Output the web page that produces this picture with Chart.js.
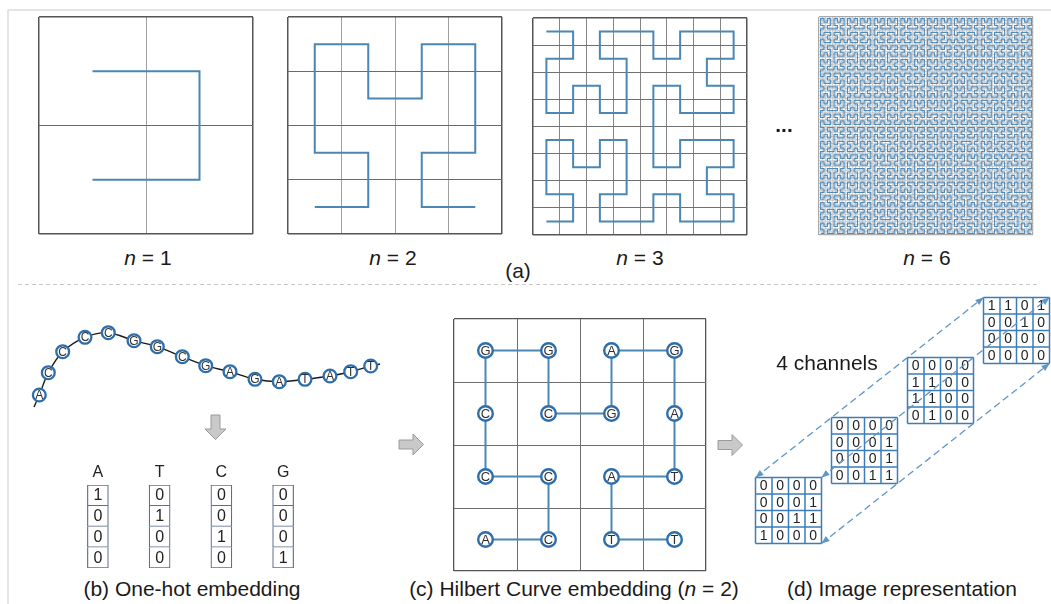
<!DOCTYPE html>
<html><head><meta charset="utf-8">
<script src="https://cdn.jsdelivr.net/npm/chart.js@4.4.0/dist/chart.umd.min.js"></script>
<style>
html,body{margin:0;padding:0;background:#fff;}
body{width:1051px;height:604px;overflow:hidden;position:relative;font-family:"Liberation Sans",Arial,sans-serif;}
canvas.c{position:absolute;}
.t{position:absolute;font-size:21px;line-height:24px;color:#1a1a1a;text-align:center;white-space:nowrap;width:400px;}
svg.o{position:absolute;left:0;top:0;}
</style></head><body>

<svg class="o" width="1051" height="604">
  <line x1="8" y1="10" x2="1051" y2="10" stroke="#e4e4e4" stroke-width="2"/>
  <line x1="8" y1="10" x2="8" y2="604" stroke="#e4e4e4" stroke-width="2"/>
  <line x1="18" y1="284.5" x2="1040" y2="284.5" stroke="#c8c8c8" stroke-width="1" stroke-dasharray="4,3"/>
  <polygon points="211,415 220,415 220,429 226,429 215.5,439.5 205,429 211,429" fill="#c9c9c9" stroke="#9a9a9a" stroke-width="1"/>
  <polygon points="399,440 413,440 413,434 423.5,444.5 413,455 413,449 399,449" fill="#c9c9c9" stroke="#9a9a9a" stroke-width="1"/>
  <polygon points="718,440.5 732,440.5 732,434.5 742.5,445 732,455.5 732,449.5 718,449.5" fill="#c9c9c9" stroke="#9a9a9a" stroke-width="1"/>
</svg>

<canvas class="c" id="h1" width="222" height="225" style="left:35px;top:13px"></canvas>
<canvas class="c" id="h2" width="222" height="225" style="left:284px;top:13px"></canvas>
<canvas class="c" id="h3" width="222" height="225" style="left:529px;top:14px"></canvas>
<canvas class="c" id="h6" width="222" height="226" style="left:815px;top:13px"></canvas>
<canvas class="c" id="dna" width="380" height="105" style="left:20px;top:315px"></canvas>
<canvas class="c" id="onehot" width="255" height="114" style="left:63px;top:458px"></canvas>
<canvas class="c" id="hc" width="260" height="260" style="left:450px;top:315px"></canvas>
<canvas class="c" id="img" width="311" height="275" style="left:740px;top:285px"></canvas>

<div class="t" style="left:-52px;top:246px"><i>n</i> = 1</div>
<div class="t" style="left:193px;top:246px"><i>n</i> = 2</div>
<div class="t" style="left:440px;top:246px"><i>n</i> = 3</div>
<div class="t" style="left:727px;top:246px"><i>n</i> = 6</div>
<div class="t" style="left:584px;top:113px;font-weight:bold">...</div>
<div class="t" style="left:318px;top:259px">(a)</div>
<div class="t" style="left:-8px;top:577px">(b) One-hot embedding</div>
<div class="t" style="left:374px;top:577px">(c) Hilbert Curve embedding (<i>n</i> = 2)</div>
<div class="t" style="left:702px;top:577px">(d) Image representation</div>
<div class="t" style="left:627px;top:351px">4 channels</div>

<script>
// ---------------- data ----------------
const hilbert1 = [[0,0],[1,0],[1,1],[0,1]];
const hilbert2 = [[0,0],[1,0],[1,1],[0,1],[0,2],[0,3],[1,3],[1,2],[2,2],[2,3],[3,3],[3,2],[3,1],[2,1],[2,0],[3,0]];
const hilbert3 = [
  [0,0],[1,0],[1,1],[0,1],[0,2],[0,3],[1,3],[1,2],[2,2],[2,3],[3,3],[3,2],[3,1],[2,1],[2,0],[3,0],
  [4,0],[4,1],[5,1],[5,0],[6,0],[7,0],[7,1],[6,1],[6,2],[7,2],[7,3],[6,3],[5,3],[5,2],[4,2],[4,3],
  [4,4],[4,5],[5,5],[5,4],[6,4],[7,4],[7,5],[6,5],[6,6],[7,6],[7,7],[6,7],[5,7],[5,6],[4,6],[4,7],
  [3,7],[2,7],[2,6],[3,6],[3,5],[3,4],[2,4],[2,5],[1,5],[1,4],[0,4],[0,5],[0,6],[1,6],[1,7],[0,7]
];
const hilbert6Order = 6;

const dnaSeq = ['A','C','C','C','C','G','G','C','G','A','G','A','T','A','T','T'];
// strand drawn through the bases (first and last entries are the bare strand ends)
const strandLabels = ['', ...dnaSeq, ''];
const strandX = [34, 39.3, 48.3, 62.7, 85, 108.3, 134, 157.3, 182.3, 205.7, 230, 255, 279.3, 305, 330, 350.7, 370.7, 380];
const strandY = [407, 395, 372.7, 351.7, 337.3, 332.7, 340.7, 346.7, 356.7, 365.7, 371.7, 379.3, 381.7, 379.3, 376, 371.7, 366, 364];

const bases = ['A','T','C','G'];
const oneHotA = [1,0,0,0];
const oneHotT = [0,1,0,0];
const oneHotC = [0,0,1,0];
const oneHotG = [0,0,0,1];

const channelA = [[0,0,0,0],[0,0,0,1],[0,0,1,1],[1,0,0,0]];
const channelT = [[0,0,0,0],[0,0,0,1],[0,0,0,1],[0,0,1,1]];
const channelC = [[0,0,0,0],[1,1,0,0],[1,1,0,0],[0,1,0,0]];
const channelG = [[1,1,0,1],[0,0,1,0],[0,0,0,0],[0,0,0,0]];

// ---------------- helpers ----------------
const FONT = '"Liberation Sans", Arial, sans-serif';
const BLUE = '#4a87b5';
const RING = '#2d6eab';

// Hilbert curve of a given order (same orientation as the panels above: first step to the right)
function hilbertPath(order){
  const N = 1 << order, pts = [];
  for (let d = 0; d < N*N; d++){
    let x = 0, y = 0, t = d;
    for (let s = 1; s < N; s *= 2){
      const rx = 1 & (t >> 1), ry = 1 & (t ^ rx);
      if (ry === 0){ if (rx === 1){ x = s-1-x; y = s-1-y; } const tmp = x; x = y; y = tmp; }
      x += s*rx; y += s*ry; t >>= 2;
    }
    pts.push(order % 2 ? [y, x] : [x, y]);
  }
  return pts;
}

const baseOpts = () => ({
  responsive:false, animation:false, events:[],
  plugins:{legend:{display:false}, tooltip:{enabled:false}, title:{display:false}}
});

const letterPlugin = {
  id:'letters',
  afterDatasetsDraw(chart){
    const ctx = chart.ctx;
    chart.data.datasets.forEach((ds,i)=>{
      if(!ds.letters) return;
      const meta = chart.getDatasetMeta(i);
      ctx.save();
      ctx.font = ds.letterFont; ctx.fillStyle = '#303030';
      ctx.textAlign = 'center'; ctx.textBaseline = 'middle';
      meta.data.forEach((el,j)=>{ const s = ds.letters[j]; if (s) ctx.fillText(s, el.x, el.y + 0.5); });
      ctx.restore();
    });
  }
};

function gridScale(N, inner, edge, innerW, edgeW){
  return {
    type:'linear', min:0, max:N,
    ticks:{display:false, stepSize:1},
    grid:{drawTicks:false,
      color: c => (c.tick && (c.tick.value === 0 || c.tick.value === N)) ? edge : inner,
      lineWidth: c => (c.tick && (c.tick.value === 0 || c.tick.value === N)) ? edgeW : innerW},
    border:{display:false}
  };
}

function hilbertChart(id, pts, N, o){
  const opts = baseOpts();
  opts.layout = {padding:4, autoPadding:false};
  opts.scales = {
    x: gridScale(N, o.xInner, o.edge, o.innerW, o.edgeW),
    y: gridScale(N, o.yInner, o.edge, o.innerW, o.edgeW)
  };
  new Chart(document.getElementById(id), {
    type:'scatter',
    data:{datasets:[{
      data: pts.map(p=>({x:p[0]+0.5, y:p[1]+0.5})),
      showLine:true, borderColor:o.curve, borderWidth:o.lw, pointRadius:0, tension:0,
      borderJoinStyle:'miter', borderCapStyle:'butt'
    }]},
    options:opts
  });
}

// ---------------- (a) Hilbert curves ----------------
hilbertChart('h1', hilbert1, 2, {xInner:'#a0a0a0', yInner:'#6a6a6a', edge:'#555', innerW:1, edgeW:1.5, curve:BLUE, lw:2});
hilbertChart('h2', hilbert2, 4, {xInner:'#a0a0a0', yInner:'#6a6a6a', edge:'#555', innerW:1, edgeW:1.5, curve:BLUE, lw:2});
hilbertChart('h3', hilbert3, 8, {xInner:'#858585', yInner:'#707070', edge:'#555', innerW:1, edgeW:1.5, curve:BLUE, lw:2});
hilbertChart('h6', hilbertPath(hilbert6Order), 64, {xInner:'#c6c6c6', yInner:'#c6c6c6', edge:'#aaaaaa', innerW:0.8, edgeW:1.2, curve:'#4f8bbb', lw:1.2});

// ---------------- (b) DNA strand ----------------
(function(){
  const opts = baseOpts();
  opts.layout = {padding:0, autoPadding:false};
  opts.scales = {
    x:{type:'linear', display:false, min:20, max:400},
    y:{type:'linear', display:false, min:315, max:420, reverse:true}
  };
  new Chart(document.getElementById('dna'), {
    type:'scatter',
    data:{datasets:[{
      data: strandX.map((x,i)=>({x, y:strandY[i]})),
      showLine:true, borderColor:'#1a1a1a', borderWidth:1.4, tension:0.3, clip:false,
      pointRadius: strandLabels.map(s => s ? 6.4 : 0),
      pointBorderWidth:2.3, pointBorderColor:RING, pointBackgroundColor:'#fff',
      letters: strandLabels, letterFont:'12px ' + FONT
    }]},
    options:opts, plugins:[letterPlugin]
  });
})();

// ---------------- (b) one-hot table ----------------
(function(){
  const cols = {A:oneHotA, T:oneHotT, C:oneHotC, G:oneHotG};
  const datasets = [0,1,2,3].map(r => ({
    data:[1,1,1,1],
    cellText: bases.map(b => cols[b][r]),
    backgroundColor:'#fff', borderColor:'#5f6e8c', borderWidth:1.2,
    borderSkipped: r === 0 ? false : 'start',
    barThickness:21
  }));
  const tablePlugin = {
    id:'table',
    afterDatasetsDraw(chart){
      const ctx = chart.ctx;
      ctx.save();
      ctx.fillStyle = '#222'; ctx.textAlign = 'center'; ctx.textBaseline = 'middle';
      ctx.font = '16px ' + FONT;
      chart.data.datasets.forEach((ds,i)=>{
        chart.getDatasetMeta(i).data.forEach((el,j)=>{
          ctx.fillText(String(ds.cellText[j]), el.x, (el.y + el.base)/2 + 0.5);
        });
      });
      const xs = chart.scales.x;
      bases.forEach((b,j)=> ctx.fillText(b, xs.getPixelForValue(j), chart.chartArea.top - 12));
      ctx.restore();
    }
  };
  const opts = baseOpts();
  opts.layout = {padding:{left:4, right:4, top:27, bottom:4}, autoPadding:false};
  opts.scales = {
    x:{type:'category', display:false, stacked:true},
    y:{type:'linear', display:false, stacked:true, min:0, max:4, reverse:true}
  };
  new Chart(document.getElementById('onehot'), {
    type:'bar', data:{labels:bases, datasets}, options:opts, plugins:[tablePlugin]
  });
})();

// ---------------- (c) Hilbert curve embedding ----------------
(function(){
  const opts = baseOpts();
  opts.layout = {padding:4, autoPadding:false};
  opts.scales = {
    x: gridScale(4, '#6e6e6e', '#555', 1, 1.3),
    y: gridScale(4, '#6e6e6e', '#555', 1, 1.3)
  };
  new Chart(document.getElementById('hc'), {
    type:'scatter',
    data:{datasets:[{
      data: hilbert2.map(p=>({x:p[0]+0.5, y:p[1]+0.5})),
      showLine:true, borderColor:BLUE, borderWidth:2, tension:0, clip:false,
      pointRadius:7.3, pointBorderWidth:2.4, pointBorderColor:RING, pointBackgroundColor:'#fff',
      letters: dnaSeq, letterFont:'13px ' + FONT
    }]},
    options:opts, plugins:[letterPlugin]
  });
})();

// ---------------- (d) image representation ----------------
(function(){
  const channels = [channelA, channelT, channelC, channelG];
  const L = {x0:755.5, y0:477.5, dx:76, dy:-60, cell:16.5};
  const side = 4*L.cell;
  const corners = [[0,0],[side,0],[side,side]]; // top-left, top-right, bottom-right
  const last = channels.length - 1;
  const datasets = corners.map(([ox,oy]) => ({
    data:[{x:L.x0+ox, y:L.y0+oy}, {x:L.x0+last*L.dx+ox, y:L.y0+last*L.dy+oy}],
    showLine:true, borderColor:'#5f96c6', borderWidth:1.3, borderDash:[7,4],
    pointRadius:0, clip:false
  }));
  const matrixPlugin = {
    id:'matrices',
    beforeDatasetsDraw(chart){
      const ctx = chart.ctx, xs = chart.scales.x, ys = chart.scales.y;
      ctx.save();
      channels.forEach((m,k)=>{
        const ox = L.x0 + k*L.dx, oy = L.y0 + k*L.dy;
        const px = v => xs.getPixelForValue(ox + v*L.cell);
        const py = v => ys.getPixelForValue(oy + v*L.cell);
        ctx.fillStyle = '#fff';
        ctx.fillRect(px(0), py(0), px(4)-px(0), py(4)-py(0));
        ctx.strokeStyle = '#3d7cb6'; ctx.lineWidth = 1.5;
        ctx.beginPath();
        for (let i=0;i<=4;i++){
          ctx.moveTo(px(i), py(0)); ctx.lineTo(px(i), py(4));
          ctx.moveTo(px(0), py(i)); ctx.lineTo(px(4), py(i));
        }
        ctx.stroke();
        ctx.fillStyle = '#222'; ctx.font = '14px ' + FONT;
        ctx.textAlign = 'center'; ctx.textBaseline = 'middle';
        m.forEach((row,r)=> row.forEach((v,c)=> ctx.fillText(String(v), px(c+0.5), py(r+0.5)+0.5)));
      });
      ctx.restore();
    },
    afterDatasetsDraw(chart){
      const ctx = chart.ctx;
      ctx.save();
      ctx.fillStyle = '#5f96c6';
      chart.data.datasets.forEach((ds,i)=>{
        const pts = chart.getDatasetMeta(i).data;
        [[pts[0],pts[1]],[pts[1],pts[0]]].forEach(([tip,from])=>{
          const a = Math.atan2(tip.y-from.y, tip.x-from.x);
          ctx.beginPath();
          ctx.moveTo(tip.x, tip.y);
          ctx.lineTo(tip.x - 8*Math.cos(a) + 3.2*Math.sin(a), tip.y - 8*Math.sin(a) - 3.2*Math.cos(a));
          ctx.lineTo(tip.x - 8*Math.cos(a) - 3.2*Math.sin(a), tip.y - 8*Math.sin(a) + 3.2*Math.cos(a));
          ctx.closePath(); ctx.fill();
        });
      });
      ctx.restore();
    }
  };
  const opts = baseOpts();
  opts.layout = {padding:0, autoPadding:false};
  opts.scales = {
    x:{type:'linear', display:false, min:740, max:1051},
    y:{type:'linear', display:false, min:285, max:560, reverse:true}
  };
  new Chart(document.getElementById('img'), {
    type:'scatter', data:{datasets}, options:opts, plugins:[matrixPlugin]
  });
})();
</script>
</body></html>
